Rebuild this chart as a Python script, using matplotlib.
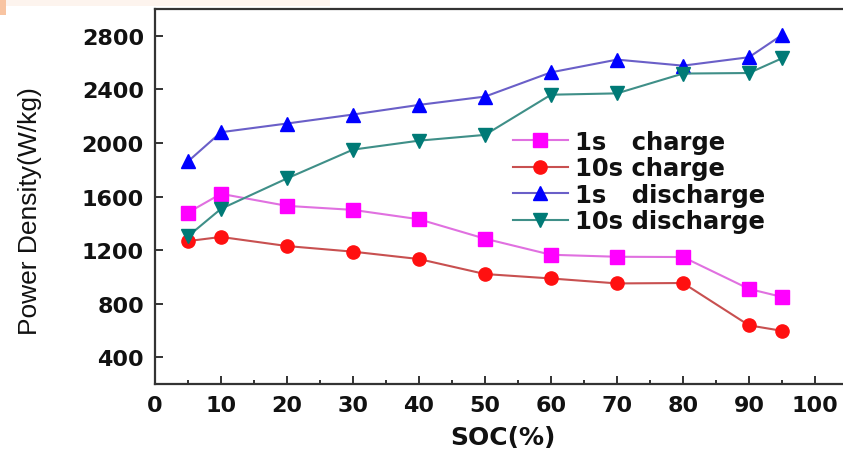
import matplotlib
matplotlib.use("Agg")
import matplotlib.pyplot as plt
from matplotlib.patches import Rectangle
from matplotlib.ticker import MultipleLocator

soc = [5, 10, 20, 30, 40, 50, 60, 70, 80, 90, 95]
charge_1s = [1480, 1620, 1530, 1500, 1430, 1285, 1165, 1150, 1148, 910, 850]
charge_10s = [1267, 1298, 1230, 1188, 1133, 1021, 988, 951, 954, 638, 597]
discharge_1s = [1862, 2080, 2145, 2212, 2284, 2346, 2527, 2622, 2577, 2640, 2806]
discharge_10s = [1303, 1508, 1735, 1950, 2017, 2060, 2360, 2370, 2518, 2522, 2632]

labels = ["1s   charge", "10s charge", "1s   discharge", "10s discharge"]
y_ticks = [400, 800, 1200, 1600, 2000, 2400, 2800]
x_ticks = [0, 10, 20, 30, 40, 50, 60, 70, 80, 90, 100]

W, H = 843, 456
fig = plt.figure(figsize=(W / 100, H / 100), dpi=100)
fig.patch.set_facecolor("white")

# faint scan artefacts at the top edge
fig.patches.append(Rectangle((0, 1 - 7 / H), 330 / W, 7 / H, transform=fig.transFigure,
                             facecolor="#fdf4ee", edgecolor="none", zorder=0))
fig.patches.append(Rectangle((0, 1 - 16 / H), 6 / W, 16 / H, transform=fig.transFigure,
                             facecolor="#f8c4a2", edgecolor="none", zorder=0))

ax = fig.add_axes([155 / W, (H - 385) / H, (W - 155) / W, (385 - 10) / H])
ax.set_xlim(0, 688 / 6.6)
ax.set_ylim(200, 3000)

series = [
    (charge_1s, "s", "#ff00ff", "#e070e0"),
    (charge_10s, "o", "#ff1010", "#c85050"),
    (discharge_1s, "^", "#0000ff", "#6a5fc8"),
    (discharge_10s, "v", "#007a76", "#3f8f88"),
]
for (vals, mk, mc, lc), lab in zip(series, labels):
    ax.plot(soc, vals, color=lc, lw=1.5, marker=mk, ms=9.5, mfc=mc, mec=mc,
            label=lab, zorder=3)

for side in ["left", "bottom", "top"]:
    ax.spines[side].set_linewidth(1.6)
    ax.spines[side].set_color("#333333")
ax.spines["right"].set_visible(False)

ax.set_xticks(x_ticks)
ax.set_yticks(y_ticks)
ax.xaxis.set_minor_locator(MultipleLocator(5))
ax.tick_params(axis="both", which="major", direction="in", length=6, width=1.4,
               color="#333333", labelsize=16, pad=8)
ax.tick_params(axis="x", which="minor", direction="in", length=3, width=1.4,
               color="#333333")
ax.tick_params(top=False, right=False, which="both")
for t in ax.get_xticklabels() + ax.get_yticklabels():
    t.set_fontfamily("DejaVu Sans")
    t.set_fontweight("bold")
    t.set_color("#111111")

fig.text(30 / W, 1 - 211 / H, "Power Density(W/kg)", rotation=90, ha="center",
         va="center", fontsize=19, family="Liberation Sans", color="#111111")
fig.text(503 / W, 1 - 438 / H, "SOC(%)", ha="center", va="center",
         fontsize=18, fontweight="bold", family="DejaVu Sans", color="#111111")

leg = ax.legend(loc="upper left", bbox_to_anchor=(513 / W, 1 - 131 / H),
                bbox_transform=fig.transFigure, frameon=False, borderpad=0,
                borderaxespad=0, handlelength=2.25, handletextpad=0.3,
                labelspacing=0.1,
                prop={"family": "DejaVu Sans", "weight": "bold", "size": 17.5})
for t in leg.get_texts():
    t.set_color("#111111")

fig.savefig("out.png", dpi=100)
